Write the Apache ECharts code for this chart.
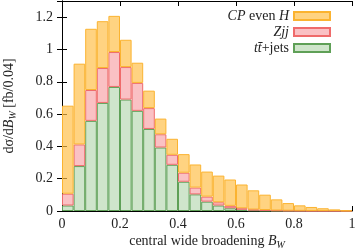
<!DOCTYPE html>
<html><head><meta charset="utf-8">
<script src="https://cdn.jsdelivr.net/npm/echarts@6/dist/echarts.min.js"></script>
<style>html,body{margin:0;padding:0;background:#fff}#c{width:357px;height:249px}</style>
</head><body><div id="c"></div>
<script>
// bin left edges (bin width 0.04)
const binEdges = [0.00,0.04,0.08,0.12,0.16,0.20,0.24,0.28,0.32,0.36,0.40,0.44,0.48,
                  0.52,0.56,0.60,0.64,0.68,0.72,0.76,0.80,0.84,0.88,0.92,0.96];
// stacked components (fb/0.04)
const ttjets = [0.034,0.278,0.558,0.669,0.768,0.690,0.620,0.508,0.393,0.286,0.181,0.103,0.058,
                0.034,0.017,0.008,0.004,0.002,0.001,0,0,0,0,0,0];
const zjj    = [0.073,0.134,0.191,0.216,0.216,0.201,0.173,0.129,0.082,0.062,0.056,0.042,0.031,
                0.020,0.015,0.009,0.005,0.004,0.002,0.002,0.001,0,0,0,0];
const cpEvenH= [0.545,0.500,0.379,0.290,0.224,0.169,0.125,0.108,0.097,0.099,0.115,0.143,0.155,
                0.165,0.163,0.147,0.119,0.095,0.069,0.047,0.034,0.025,0.017,0.010,0.003];
const xTickLabels = ['0','0.2','0.4','0.6','0.8','1'];
const yTickLabels = ['0','0.2','0.4','0.6','0.8','1','1.2'];

const FONT = 'Liberation Serif';
const chart = echarts.init(document.getElementById('c'), null, {renderer:'canvas'});
const axisLine = {show:true, lineStyle:{color:'#000', width:1}};
const tickIn = {show:true, inside:true, length:5, lineStyle:{color:'#000'}};
const xMap = {}; xTickLabels.forEach(s=>{xMap[(+s).toFixed(1)] = s;});
const yMap = {}; yTickLabels.forEach(s=>{yMap[(+s).toFixed(1)] = s;});

const mkSeries = (name, data, fill, border) => ({
  name, type:'bar', stack:'tot', xAxisIndex:0, yAxisIndex:0, data,
  barWidth:'100%', barCategoryGap:'0%',
  itemStyle:{color:fill, borderColor:border, borderWidth:1},
  emphasis:{disabled:true}, animation:false
});

const legendNames = {
  'H':'{i|CP} {r|even} {i|H}',
  'Z':'{i|Zjj}',
  'T':'{i|tt̄}{r|+jets}'
};
const FS = 14;
const rich = {
  r:{fontFamily:FONT,fontSize:FS,color:'#222',lineHeight:18},
  i:{fontFamily:FONT,fontSize:FS,fontStyle:'italic',color:'#222',lineHeight:18},
  s:{fontFamily:FONT,fontSize:10,fontStyle:'italic',color:'#222',lineHeight:18,verticalAlign:'bottom'}
};

chart.setOption({
  animation:false,
  textStyle:{fontFamily:FONT},
  grid:{left:62, right:5, top:1, bottom:38, containLabel:false, outerBoundsMode:'none'},
  legend:{
    orient:'vertical', right:21, top:4, align:'right',
    itemWidth:36, itemHeight:8, itemGap:2, icon:'rect',
    data:['H','Z','T'],
    formatter:n=>legendNames[n],
    textStyle:{fontFamily:FONT, fontSize:FS, color:'#222',
      rich:{i:{fontStyle:'italic', fontFamily:FONT, fontSize:FS, color:'#222'},
            r:{fontFamily:FONT, fontSize:FS, color:'#222'}}}
  },
  xAxis:[
    {type:'category', data:binEdges, boundaryGap:true, show:false, gridIndex:0},
    {type:'value', position:'bottom', min:0, max:1, interval:0.2,
     axisLine, axisTick:tickIn, splitLine:{show:false},
     axisLabel:{fontFamily:FONT, fontSize:FS, color:'#222', margin:6,
       formatter:v=>xMap[(+v).toFixed(1)]??''},
     name:'{r|central wide broadening }{i|B}{s|W}', nameLocation:'middle', nameGap:21,
     nameMoveOverlap:false,
     nameTextStyle:{fontFamily:FONT, fontSize:FS, color:'#222', rich}},
    {type:'value', position:'top', min:0, max:1, interval:0.2,
     axisLine, axisTick:tickIn, axisLabel:{show:false}, splitLine:{show:false}}
  ],
  yAxis:[
    {type:'value', position:'left', min:0, max:1.3, interval:0.2,
     axisLine, axisTick:tickIn, splitLine:{show:false},
     axisLabel:{fontFamily:FONT, fontSize:FS, color:'#222', margin:9, showMaxLabel:false,
       formatter:v=>yMap[(+v).toFixed(1)]??''},
     name:'{r|dσ/d}{i|B}{s|W}{r| [fb/0.04]}', nameLocation:'middle', nameGap:44, nameRotate:90,
     nameMoveOverlap:false,
     nameTextStyle:{fontFamily:FONT, fontSize:FS, color:'#222', rich}},
    {type:'value', position:'right', min:0, max:1.3, interval:0.2,
     axisLine, axisTick:tickIn, axisLabel:{show:false}, splitLine:{show:false}}
  ],
  series:[
    mkSeries('T', ttjets, 'rgba(168,208,160,0.55)', '#5fa057'),
    mkSeries('Z', zjj, 'rgba(248,160,165,0.65)', '#ef6b6b'),
    mkSeries('H', cpEvenH, 'rgba(255,190,70,0.68)', '#fbb330')
  ]
});
</script></body></html>
